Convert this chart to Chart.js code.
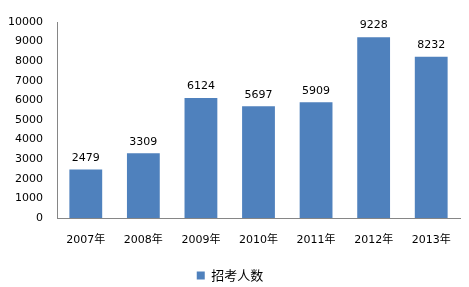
<!DOCTYPE html>
<html lang="zh">
<head>
    <meta charset="UTF-8">
    <title>招考人数</title>
    <script src="https://cdn.jsdelivr.net/npm/chart.js"></script>
    <style>
        body { margin: 0; background: #fff; }
        #wrap { width: 469px; height: 287px; }
    </style>
</head>
<body>
    <div id="wrap"><canvas id="chart" width="469" height="287"></canvas></div>

    <script>
        const years = ['2007年', '2008年', '2009年', '2010年', '2011年', '2012年', '2013年'];
        const applicants = [2479, 3309, 6124, 5697, 5909, 9228, 8232];
        const seriesName = '招考人数';
        const yMax = 10000;
        const yStep = 1000;

        const fontFamily = '"DejaVu Sans", "Noto Sans CJK SC", sans-serif';

        // 柱顶数值标签
        const valueLabels = {
            id: 'valueLabels',
            afterDatasetsDraw(chart) {
                const ctx = chart.ctx;
                const meta = chart.getDatasetMeta(0);
                ctx.save();
                ctx.font = '11px ' + fontFamily;
                ctx.fillStyle = '#000';
                ctx.textAlign = 'center';
                ctx.textBaseline = 'bottom';
                meta.data.forEach((bar, i) => {
                    ctx.fillText(applicants[i], bar.x, bar.y - 6);
                });
                ctx.restore();
            }
        };

        new Chart(document.getElementById('chart').getContext('2d'), {
            type: 'bar',
            data: {
                labels: years,
                datasets: [{
                    label: seriesName,
                    data: applicants,
                    backgroundColor: '#4F81BD',
                    barPercentage: 0.57,
                    categoryPercentage: 1
                }]
            },
            options: {
                responsive: false,
                animation: false,
                layout: { padding: { top: 22, right: 9, left: 0, bottom: -5 } },
                plugins: {
                    tooltip: { enabled: false },
                    legend: {
                        position: 'bottom',
                        labels: {
                            boxWidth: 8,
                            boxHeight: 8,
                            padding: 4,
                            color: '#000',
                            font: { family: '"Noto Sans CJK SC", sans-serif', size: 13 }
                        }
                    }
                },
                scales: {
                    x: {
                        grid: { display: false, drawTicks: false },
                        border: { display: true, color: '#868686' },
                        ticks: {
                            color: '#000',
                            padding: 16,
                            font: { family: fontFamily, size: 11 }
                        },
                        afterFit(scale) { scale.height = 47; }
                    },
                    y: {
                        min: 0,
                        max: yMax,
                        grid: { display: false, drawTicks: false },
                        border: { display: true, color: '#868686' },
                        ticks: {
                            stepSize: yStep,
                            color: '#000',
                            padding: 14,
                            font: { family: fontFamily, size: 11 },
                            callback: v => String(v)
                        },
                        afterFit(scale) { scale.width = 57; }
                    }
                }
            },
            plugins: [valueLabels]
        });
    </script>
</body>
</html>
